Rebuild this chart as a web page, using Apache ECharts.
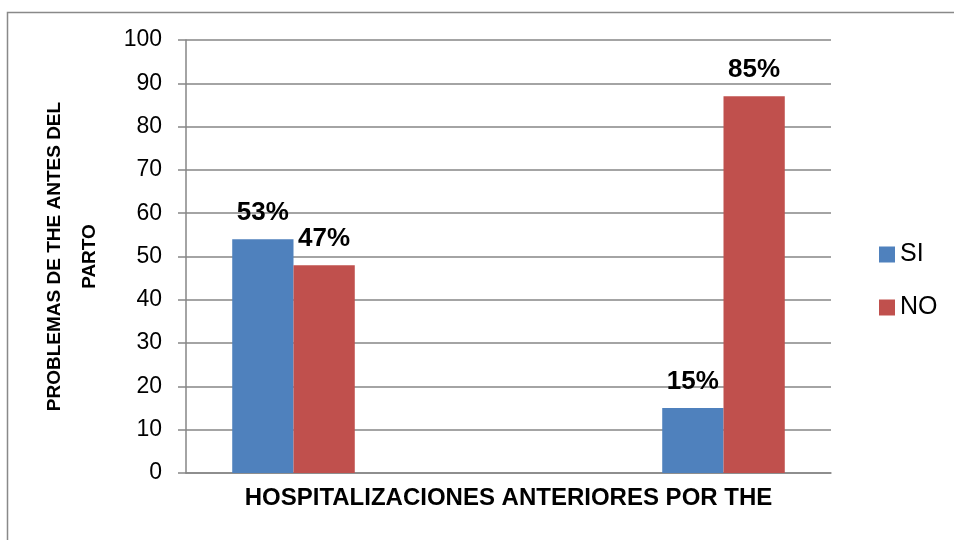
<!DOCTYPE html>
<html>
<head>
<meta charset="utf-8">
<script src="https://cdn.jsdelivr.net/npm/echarts@6/dist/echarts.min.js"></script>
<style>
  html, body { margin: 0; padding: 0; background: #fff; }
  #chart { width: 954px; height: 540px; }
</style>
</head>
<body>
<div id="chart"></div>
<script>
// three slots on the x axis, the middle one is empty in the original
const categories = ['', '', '']
const seriesNames = ['SI', 'NO']
const siValues = [54, null, 15]
const noValues = [48, null, 87]
const siLabels = ['53%', '', '15%']
const noLabels = ['47%', '', '85%']
const yTicks = { min: 0, max: 100, interval: 10 }

const font = 'Liberation Sans, Arial, sans-serif'
const gridColor = '#868686'

const chart = echarts.init(document.getElementById('chart'))

function barSeries (name, values, labels, color) {
  return {
    name: name,
    type: 'bar',
    data: values,
    barGap: '0%',
    barCategoryGap: '43%',
    itemStyle: { color: color },
    label: {
      show: true,
      position: 'top',
      distance: 13,
      fontFamily: font,
      fontWeight: 'bold',
      fontSize: 26,
      color: '#000',
      formatter: p => labels[p.dataIndex]
    }
  }
}

chart.setOption({
  animation: false,
  color: ['#4F81BD', '#C0504D'],
  graphic: [{
    type: 'rect',
    left: 5,
    top: 10,
    shape: { width: 1000, height: 600 },
    style: { fill: 'none', stroke: '#898989', lineWidth: 1.5 },
    silent: true
  }],
  grid: {
    left: 186,
    right: 123,
    top: 40,
    bottom: 67
  },
  legend: {
    data: seriesNames,
    orient: 'vertical',
    left: 874,
    top: 237,
    itemWidth: 16,
    itemHeight: 16,
    itemGap: 28,
    icon: 'rect',
    textStyle: {
      fontFamily: font,
      fontSize: 25,
      color: '#000'
    }
  },
  xAxis: {
    type: 'category',
    data: categories,
    name: 'HOSPITALIZACIONES ANTERIORES POR THE',
    nameLocation: 'middle',
    nameGap: 13,
    nameTextStyle: {
      fontFamily: font,
      fontWeight: 'bold',
      fontSize: 24,
      color: '#000',
      verticalAlign: 'top'
    },
    axisLine: { show: true, lineStyle: { color: gridColor, width: 1.5 } },
    axisTick: { show: false },
    axisLabel: { show: false },
    splitLine: { show: false }
  },
  yAxis: {
    type: 'value',
    min: yTicks.min,
    max: yTicks.max,
    interval: yTicks.interval,
    name: 'PROBLEMAS DE THE ANTES DEL\nPARTO',
    nameLocation: 'middle',
    nameGap: 79,
    nameTextStyle: {
      fontFamily: font,
      fontWeight: 'bold',
      fontSize: 19,
      color: '#000',
      lineHeight: 35,
      align: 'center'
    },
    axisLine: { show: true, lineStyle: { color: gridColor, width: 1.5 } },
    axisTick: { show: true, length: 8, lineStyle: { color: gridColor, width: 1.5 } },
    axisLabel: {
      margin: 24,
      fontFamily: font,
      fontSize: 23,
      color: '#000'
    },
    splitLine: { show: true, lineStyle: { color: gridColor, width: 1.5 } }
  },
  series: [
    barSeries(seriesNames[0], siValues, siLabels, '#4F81BD'),
    barSeries(seriesNames[1], noValues, noLabels, '#C0504D')
  ]
})
</script>
</body>
</html>
